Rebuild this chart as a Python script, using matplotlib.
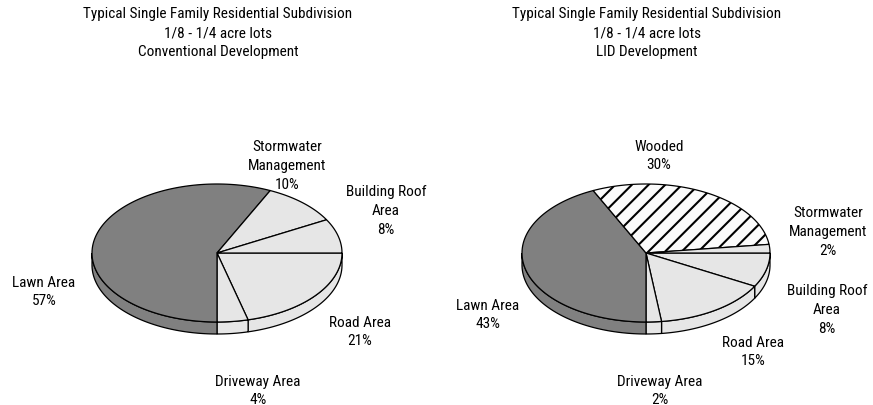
import numpy as np
import matplotlib
matplotlib.use("Agg")
import matplotlib.pyplot as plt
from matplotlib.patches import Polygon

plt.rcParams['font.family'] = ['Roboto Condensed', 'DejaVu Sans']
plt.rcParams['hatch.linewidth'] = 1.5

# data (percent of site), listed clockwise starting at 3 o'clock
conv_labels = ['Road Area', 'Driveway Area', 'Lawn Area', 'Stormwater\nManagement', 'Building Roof\nArea']
conv_values = [21, 4, 57, 10, 8]
lid_labels = ['Building Roof\nArea', 'Road Area', 'Driveway Area', 'Lawn Area', 'Wooded', 'Stormwater\nManagement']
lid_values = [8, 15, 2, 43, 30, 2]

titles = ['Typical Single Family Residential Subdivision\n1/8 - 1/4 acre lots\nConventional Development',
          'Typical Single Family Residential Subdivision\n1/8 - 1/4 acre lots\nLID Development']

LIGHT = '#e6e6e6'
DARK = '#808080'


def style_for(name):
    if name == 'Lawn Area':
        return DARK, None
    if name == 'Wooded':
        return '#fbfbfb', '//'
    return LIGHT, None


def draw_pie(ax, cx, cy, a, b, depth, values, labels):
    # 3d-ish pie: ellipse top face plus side wall on the lower half
    bounds = -np.cumsum([0] + list(values)) / 100.0 * 360.0
    # side walls first
    for k, name in enumerate(labels):
        hi, lo = bounds[k], bounds[k + 1]
        s_hi, s_lo = min(hi, 0), max(lo, -180)
        if s_hi <= s_lo:
            continue
        t = np.radians(np.linspace(s_lo, s_hi, 80))
        top = np.column_stack([cx + a * np.cos(t), cy - b * np.sin(t)])
        bot = top[::-1] + [0, depth]
        col, _ = style_for(name)
        ax.add_patch(Polygon(np.vstack([top, bot]), closed=True, facecolor=col,
                             edgecolor='black', lw=0.9, zorder=1))
    # top face
    for k, name in enumerate(labels):
        hi, lo = bounds[k], bounds[k + 1]
        t = np.radians(np.linspace(lo, hi, 150))
        pts = np.vstack([[cx, cy], np.column_stack([cx + a * np.cos(t), cy - b * np.sin(t)])])
        col, hatch = style_for(name)
        ax.add_patch(Polygon(pts, closed=True, facecolor=col, edgecolor='black',
                             lw=0.9, hatch=hatch, zorder=2))


fig = plt.figure(figsize=(8.73, 4.06), dpi=100)
ax = fig.add_axes([0, 0, 1, 1])
ax.set_xlim(0, 873)
ax.set_ylim(406, 0)
ax.axis('off')

draw_pie(ax, 217, 254, 125, 69, 12, conv_values, conv_labels)
draw_pie(ax, 646, 254, 124, 69, 12, lid_values, lid_labels)

fs = 11
ls = 1.42
ax.text(218, 33, titles[0], ha='center', va='center', fontsize=fs, linespacing=ls)
ax.text(647, 33, titles[1], ha='center', va='center', fontsize=fs, linespacing=ls)

conv_pos = {'Road Area': (360, 332), 'Driveway Area': (258, 391), 'Lawn Area': (44, 292),
            'Stormwater\nManagement': (287, 166), 'Building Roof\nArea': (386, 211)}
lid_pos = {'Building Roof\nArea': (827, 310), 'Road Area': (753, 352), 'Driveway Area': (660, 391),
           'Lawn Area': (488, 315), 'Wooded': (659, 156), 'Stormwater\nManagement': (828, 232)}

for names, vals, pos in [(conv_labels, conv_values, conv_pos), (lid_labels, lid_values, lid_pos)]:
    for name, v in zip(names, vals):
        x, y = pos[name]
        ax.text(x, y, f'{name}\n{v}%', ha='center', va='center', fontsize=fs,
                linespacing=ls, clip_on=False)

fig.savefig('out.png', dpi=100)
